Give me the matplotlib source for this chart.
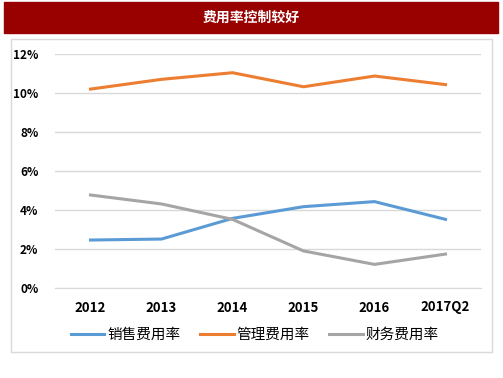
import numpy as np
import matplotlib.pyplot as plt
from matplotlib.patches import Rectangle

plt.rcParams['font.family'] = ['Noto Sans CJK SC', 'DejaVu Sans']

years = ["2012", "2013", "2014", "2015", "2016", "2017Q2"]
xiaoshou = [2.46, 2.51, 3.57, 4.17, 4.43, 3.52]
guanli = [10.2, 10.7, 11.04, 10.32, 10.87, 10.43]
caiwu = [4.77, 4.31, 3.52, 1.9, 1.21, 1.74]

W, H = 503, 378
fig = plt.figure(figsize=(W / 100, H / 100), dpi=100)

# red title banner
fig.patches.append(Rectangle((4 / W, 1 - 33 / H), 494 / W, 31 / H,
                             transform=fig.transFigure, color="#990000", zorder=0))
fig.text(251 / W, 1 - 18 / H, "费用率控制较好", color="white", fontsize=10,
         fontweight="bold", ha="center", va="center")

# outer chart border
fig.patches.append(Rectangle((11 / W, 1 - 352 / H), 481 / W, 313 / H,
                             transform=fig.transFigure, fill=False,
                             edgecolor="#D9D9D9", linewidth=1, zorder=0))

ax = fig.add_axes([55 / W, 1 - 288 / H, 426 / W, 234 / H])
x = np.arange(len(years))
ax.plot(x, np.array(xiaoshou) / 100, color="#5B9BD5", lw=2.2, label="销售费用率")
ax.plot(x, np.array(guanli) / 100, color="#ED7D31", lw=2.2, label="管理费用率")
ax.plot(x, np.array(caiwu) / 100, color="#A5A5A5", lw=2.2, label="财务费用率")

ax.set_xlim(-0.5, 5.5)
ax.set_ylim(0, 0.12)
ax.set_yticks(np.arange(0, 0.121, 0.02))
ax.set_yticklabels([f"{int(round(v * 100))}%" for v in np.arange(0, 0.121, 0.02)])
ax.set_xticks(x)
ax.set_xticklabels(years)
ax.grid(axis="y", color="#D9D9D9", lw=1)
ax.set_axisbelow(True)
for s in ["top", "right", "left"]:
    ax.spines[s].set_visible(False)
ax.spines["bottom"].set_color("#D9D9D9")
ax.tick_params(length=0)
ax.tick_params(axis="x", labelsize=9.5, pad=9)
ax.tick_params(axis="y", labelsize=8.5, pad=12)
for t in ax.get_xticklabels() + ax.get_yticklabels():
    t.set_fontweight("bold")

ax.legend(loc="center", bbox_to_anchor=(255 / W, 1 - 335 / H),
          bbox_transform=fig.transFigure, ncol=3, frameon=False,
          fontsize=10.5, handlelength=2.3, handletextpad=0.2, columnspacing=1.35)

fig.savefig("out.png", dpi=100)
